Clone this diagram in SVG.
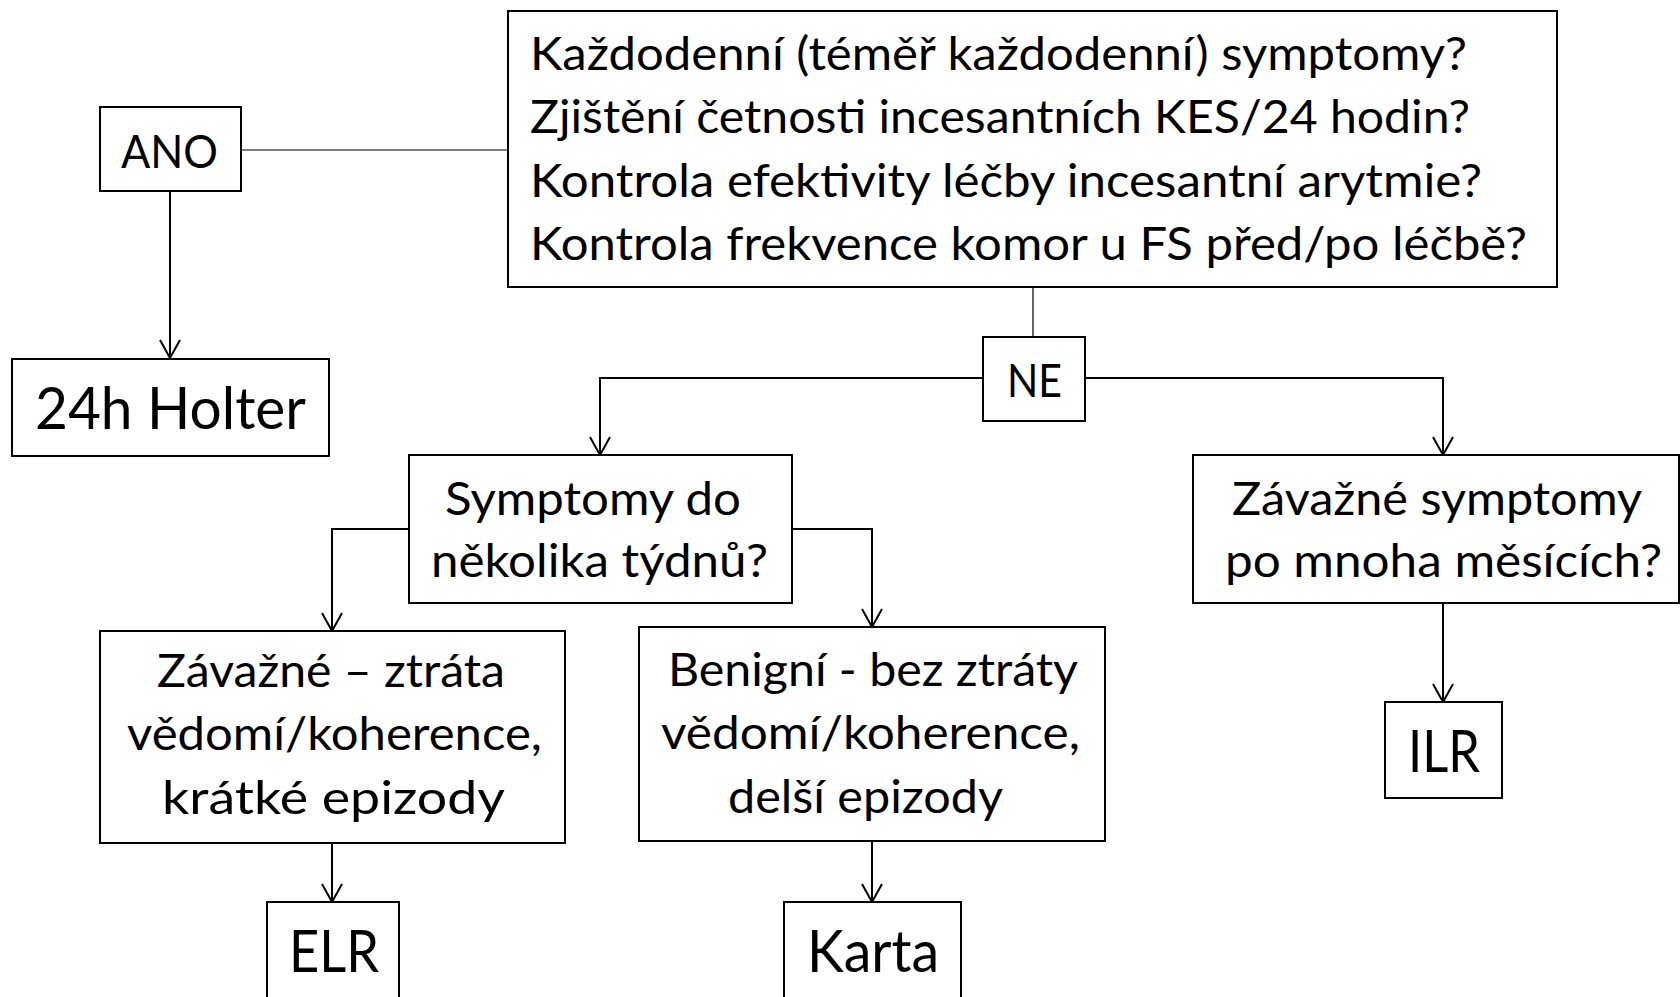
<svg xmlns="http://www.w3.org/2000/svg" width="1680" height="997" viewBox="0 0 1680 997">
<style>
.box{fill:#fff;stroke:#000;stroke-width:2}
.t{font-family:Lato,"Open Sans","Liberation Sans",sans-serif;fill:#000}
.m{font-size:46px}
.b{font-size:58px}
.c{fill:none;stroke:#000;stroke-width:2}
.thin{fill:none;stroke:#000;stroke-width:1.2}
</style>
<defs>
<marker id="arr" markerUnits="userSpaceOnUse" markerWidth="24" markerHeight="24" viewBox="-20 -12 24 24" refX="0" refY="0" orient="auto" overflow="visible">
<path d="M-18,-10 L0,0 L-18,10" fill="none" stroke="#000" stroke-width="2"/>
</marker>
</defs>
<rect width="1680" height="997" fill="#fff"/>
<g id="connectors">
<path class="thin" d="M241,150 H508"/>
<path class="thin" d="M1033,287 V337"/>
<path class="c" d="M170,191 V358" marker-end="url(#arr)"/>
<path class="c" d="M983,378 H600 V455" marker-end="url(#arr)"/>
<path class="c" d="M1085,378 H1443 V455" marker-end="url(#arr)"/>
<path class="c" d="M409,529 H332 V631" marker-end="url(#arr)"/>
<path class="c" d="M792,529 H872 V627" marker-end="url(#arr)"/>
<path class="c" d="M332,843 V902" marker-end="url(#arr)"/>
<path class="c" d="M872,841 V902" marker-end="url(#arr)"/>
<path class="c" d="M1443,603 V702" marker-end="url(#arr)"/>
</g>
<g id="main">
<rect class="box" x="508" y="11" width="1049" height="276"/>
<text class="t m" x="530" y="70" textLength="937" lengthAdjust="spacingAndGlyphs">Každodenní (téměř každodenní) symptomy?</text>
<text class="t m" x="530" y="133" textLength="940" lengthAdjust="spacingAndGlyphs">Zjištění četnosti incesantních KES/24 hodin?</text>
<text class="t m" x="530" y="197" textLength="952" lengthAdjust="spacingAndGlyphs">Kontrola efektivity léčby incesantní arytmie?</text>
<text class="t m" x="530" y="260" textLength="997" lengthAdjust="spacingAndGlyphs">Kontrola frekvence komor u FS před/po léčbě?</text>
</g>
<g id="ano">
<rect class="box" x="100" y="107" width="141" height="84"/>
<text class="t m" x="121" y="168" font-size="48" textLength="97" lengthAdjust="spacingAndGlyphs">ANO</text>
</g>
<g id="holter">
<rect class="box" x="12" y="359" width="317" height="97"/>
<text class="t b" x="35" y="429" textLength="271" lengthAdjust="spacingAndGlyphs">24h Holter</text>
</g>
<g id="ne">
<rect class="box" x="983" y="337" width="102" height="84"/>
<text class="t m" x="1007" y="397" font-size="47" textLength="55" lengthAdjust="spacingAndGlyphs">NE</text>
</g>
<g id="symptomy">
<rect class="box" x="409" y="455" width="383" height="148"/>
<text class="t m" x="445" y="515" textLength="296" lengthAdjust="spacingAndGlyphs">Symptomy do</text>
<text class="t m" x="431" y="577" textLength="337" lengthAdjust="spacingAndGlyphs">několika týdnů?</text>
</g>
<g id="zavazne-mesice">
<rect class="box" x="1193" y="455" width="486" height="148"/>
<text class="t m" x="1232" y="515" textLength="410" lengthAdjust="spacingAndGlyphs">Závažné symptomy</text>
<text class="t m" x="1225" y="577" textLength="437" lengthAdjust="spacingAndGlyphs">po mnoha měsících?</text>
</g>
<g id="zavazne-ztrata">
<rect class="box" x="100" y="631" width="465" height="212"/>
<text class="t m" x="157" y="687" textLength="348" lengthAdjust="spacingAndGlyphs">Závažné – ztráta</text>
<text class="t m" x="127" y="750" textLength="415" lengthAdjust="spacingAndGlyphs">vědomí/koherence,</text>
<text class="t m" x="162" y="814" textLength="343" lengthAdjust="spacingAndGlyphs">krátké epizody</text>
</g>
<g id="benigni">
<rect class="box" x="639" y="627" width="466" height="214"/>
<text class="t m" x="668" y="686" textLength="410" lengthAdjust="spacingAndGlyphs">Benigní - bez ztráty</text>
<text class="t m" x="661" y="749" textLength="419" lengthAdjust="spacingAndGlyphs">vědomí/koherence,</text>
<text class="t m" x="728" y="813" textLength="275" lengthAdjust="spacingAndGlyphs">delší epizody</text>
</g>
<g id="ilr">
<rect class="box" x="1385" y="702" width="117" height="96"/>
<text class="t b" x="1408" y="772" textLength="72" lengthAdjust="spacingAndGlyphs">ILR</text>
</g>
<g id="elr">
<rect class="box" x="267" y="902" width="132" height="110"/>
<text class="t b" x="289" y="972" textLength="90" lengthAdjust="spacingAndGlyphs">ELR</text>
</g>
<g id="karta">
<rect class="box" x="784" y="902" width="177" height="110"/>
<text class="t b" x="807" y="972" textLength="132" lengthAdjust="spacingAndGlyphs">Karta</text>
</g>
</svg>
